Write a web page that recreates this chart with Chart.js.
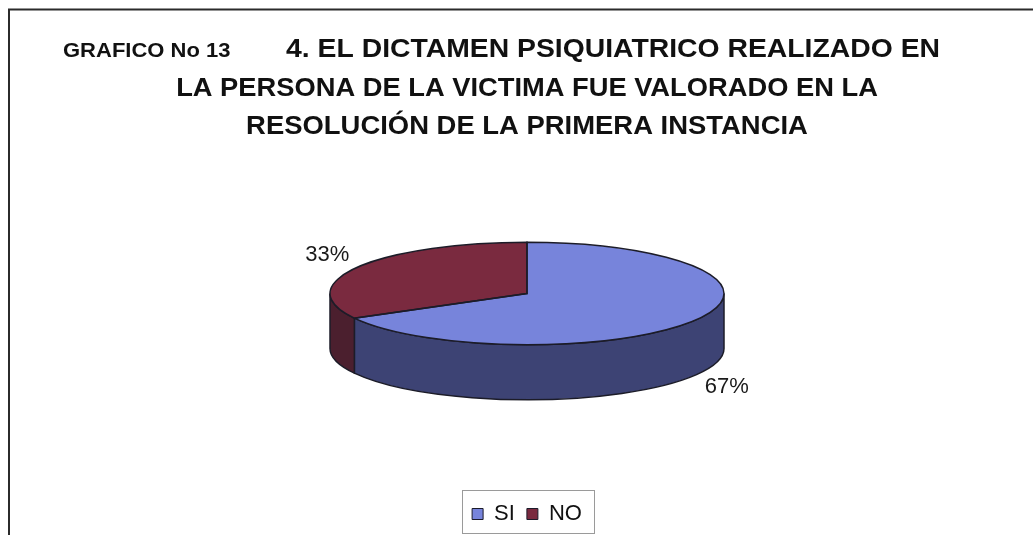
<!DOCTYPE html>
<html>
<head>
<meta charset="utf-8">
<script src="https://cdn.jsdelivr.net/npm/chart.js@4.4.1/dist/chart.umd.min.js"></script>
<style>
  html, body { margin: 0; padding: 0; background: #fff; }
  canvas { display: block; }
</style>
</head>
<body>
<canvas id="chart" width="1033" height="535"></canvas>
<script>
const labels = ['SI', 'NO'];
const values = [67, 33];
const topColors = ['#7784db', '#7a2a3f'];
const sideColors = ['#3d4374', '#4b1f2e'];
const captionText = 'GRAFICO No 13';
const titleLines = [
    '4. EL DICTAMEN PSIQUIATRICO REALIZADO EN',
    'LA PERSONA DE LA VICTIMA FUE VALORADO EN LA',
    'RESOLUCIÓN DE LA PRIMERA INSTANCIA'
];

const FONT = '"Liberation Sans", Arial, sans-serif';
const TILT = 0.26;   // vertical squash of the pie top
const DEPTH = 55;    // thickness of the 3d side
const OUTLINE = '#1c1c28';
const total = values.reduce((a, b) => a + b, 0);

// text with a little horizontal stretch, like the scanned original
function stretchedText(ctx, text, x, y, align, sx) {
    ctx.save();
    ctx.translate(x, y);
    ctx.scale(sx, 1);
    ctx.textAlign = align;
    ctx.fillText(text, 0, 0);
    ctx.restore();
}

// 3d look: sides before the slices, squash the slices, outline + labels after
const pie3d = {
    id: 'pie3d',
    beforeDatasetsDraw(chart) {
        const ctx = chart.ctx;
        const arcs = chart.getDatasetMeta(0).data;
        arcs.forEach((arc, i) => {
            const { x, y, startAngle, endAngle, outerRadius } = arc.getProps(['x', 'y', 'startAngle', 'endAngle', 'outerRadius'], true);
            const rx = outerRadius, ry = outerRadius * TILT;
            // only the front half of the rim is visible
            const a0 = Math.max(startAngle, 0);
            const a1 = Math.min(endAngle, Math.PI);
            if (a1 <= a0) return;
            ctx.save();
            ctx.beginPath();
            ctx.moveTo(x + rx * Math.cos(a0), y + ry * Math.sin(a0));
            ctx.ellipse(x, y, rx, ry, 0, a0, a1);
            ctx.ellipse(x, y + DEPTH, rx, ry, 0, a1, a0, true);
            ctx.closePath();
            ctx.fillStyle = sideColors[i];
            ctx.fill();
            ctx.lineWidth = 1.5;
            ctx.strokeStyle = OUTLINE;
            ctx.stroke();
            ctx.restore();
        });
        const first = arcs[0];
        ctx.save();
        ctx.translate(first.x, first.y);
        ctx.scale(1, TILT);
        ctx.translate(-first.x, -first.y);
    },
    afterDatasetsDraw(chart) {
        const ctx = chart.ctx;
        ctx.restore();
        const arcs = chart.getDatasetMeta(0).data;
        arcs.forEach((arc, i) => {
            const { x, y, startAngle, endAngle, outerRadius } = arc.getProps(['x', 'y', 'startAngle', 'endAngle', 'outerRadius'], true);
            const rx = outerRadius, ry = outerRadius * TILT;
            ctx.save();
            ctx.beginPath();
            ctx.moveTo(x, y);
            ctx.ellipse(x, y, rx, ry, 0, startAngle, endAngle);
            ctx.closePath();
            ctx.lineWidth = 1.5;
            ctx.strokeStyle = OUTLINE;
            ctx.stroke();

            // percentage label outside the slice
            const mid = (startAngle + endAngle) / 2;
            const s = Math.sin(mid), c = Math.cos(mid);
            const lx = x + c * (rx + 35);
            const ly = y + s * (ry + 25) + (s > 0 ? DEPTH : 0);
            ctx.font = '22px ' + FONT;
            ctx.fillStyle = '#1a1a1a';
            ctx.textAlign = 'center';
            ctx.textBaseline = 'middle';
            ctx.fillText(Math.round(values[i] / total * 100) + '%', lx, ly);
            ctx.restore();
        });
    },
    afterDraw(chart) {
        const ctx = chart.ctx;
        ctx.save();
        // frame of the original chart object
        ctx.strokeStyle = '#2b2b2b';
        ctx.lineWidth = 2;
        ctx.beginPath();
        ctx.moveTo(1033, 9.5);
        ctx.lineTo(9, 9.5);
        ctx.lineTo(9, 535);
        ctx.stroke();

        // titles
        ctx.fillStyle = '#111';
        ctx.textBaseline = 'alphabetic';
        ctx.font = 'bold 20px ' + FONT;
        stretchedText(ctx, captionText, 63, 57, 'left', 1.1);
        ctx.font = 'bold 26px ' + FONT;
        stretchedText(ctx, titleLines[0], 940, 57, 'right', 1.09);
        stretchedText(ctx, titleLines[1], 527, 96, 'center', 1.05);
        stretchedText(ctx, titleLines[2], 527, 134, 'center', 1.055);

        // box around the legend
        const lg = chart.legend;
        const hb = lg.legendHitBoxes;
        if (hb && hb.length) {
            const last = hb[hb.length - 1];
            const left = hb[0].left - 10;
            const right = last.left + last.width + 12;
            const top = hb[0].top - 13;
            const bottom = 533;
            ctx.strokeStyle = '#9a9a9a';
            ctx.lineWidth = 1;
            ctx.strokeRect(Math.round(left) + 0.5, Math.round(top) + 0.5, Math.round(right - left), Math.round(bottom - top));
        }
        ctx.restore();
    }
};

new Chart(document.getElementById('chart'), {
    type: 'pie',
    data: {
        labels: labels,
        datasets: [{
            data: values,
            backgroundColor: topColors,
            borderWidth: 0,
            clip: false
        }]
    },
    options: {
        responsive: false,
        animation: false,
        devicePixelRatio: 1,
        layout: { padding: { left: 330, right: 309, top: 96, bottom: 0 } },
        plugins: {
            title: { display: false },
            tooltip: { enabled: false },
            legend: {
                position: 'bottom',
                labels: {
                    font: { family: FONT, size: 22 },
                    color: '#111',
                    boxWidth: 11,
                    boxHeight: 11,
                    padding: 12,
                    generateLabels(chart) {
                        return Chart.overrides.pie.plugins.legend.labels.generateLabels(chart)
                            .map(item => Object.assign(item, { strokeStyle: '#1b1b2a', lineWidth: 1 }));
                    }
                }
            }
        }
    },
    plugins: [pie3d]
});
</script>
</body>
</html>
